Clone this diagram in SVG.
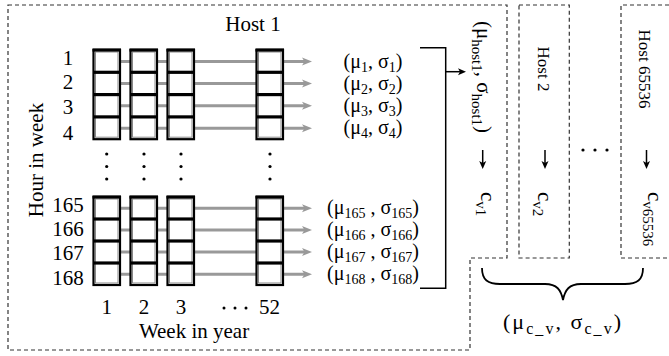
<svg xmlns="http://www.w3.org/2000/svg" width="669" height="356" viewBox="0 0 669 356" font-family="'Liberation Serif', 'DejaVu Serif', serif">
<style>
text{font-family:"Liberation Serif","DejaVu Serif",serif;fill:#000}
.t{font-size:21px}
.m{font-size:20px}
.r{font-size:17px}
.dash{fill:none;stroke:#333;stroke-width:1.2;stroke-dasharray:4 3}
.col{fill:#fff;stroke:#000;stroke-width:2.2}
.inner{fill:none;stroke:#888;stroke-width:1}
.div{stroke:#000;stroke-width:3.2}
.ga{stroke:#999;stroke-width:3;fill:none}
.bk{stroke:#000;stroke-width:1.5;fill:none}
</style>
<defs>
<marker id="gah" markerUnits="userSpaceOnUse" markerWidth="12" markerHeight="10" refX="4" refY="5" orient="auto"><path d="M0,1 L10,5 L0,9 L2.5,5 Z" fill="#999"/></marker>
<marker id="bah" markerUnits="userSpaceOnUse" markerWidth="10" markerHeight="8" refX="3" refY="4" orient="auto"><path d="M0,0.5 L8,4 L0,7.5 L2,4 Z" fill="#000"/></marker>
<g id="colU"><rect class="col" x="0" y="0" width="26.5" height="89.2"/><rect class="inner" x="2" y="2" width="22.5" height="85.2"/><line class="div" x1="-1" y1="0" x2="27.5" y2="0"/><line class="div" x1="0" y1="22.3" x2="26.5" y2="22.3"/><line class="div" x1="0" y1="44.6" x2="26.5" y2="44.6"/><line class="div" x1="0" y1="66.9" x2="26.5" y2="66.9"/></g>
<g id="colL"><rect class="col" x="0" y="0" width="26.5" height="88"/><rect class="inner" x="2" y="2" width="22.5" height="84"/><line class="div" x1="-1" y1="0" x2="27.5" y2="0"/><line class="div" x1="0" y1="22" x2="26.5" y2="22"/><line class="div" x1="0" y1="44" x2="26.5" y2="44"/><line class="div" x1="0" y1="66" x2="26.5" y2="66"/></g>
</defs>
<rect width="669" height="356" fill="#fff"/>

<g id="connectors">
<line class="ga" x1="100" y1="61.5" x2="306" y2="61.5" marker-end="url(#gah)"/>
<line class="ga" x1="100" y1="83.5" x2="306" y2="83.5" marker-end="url(#gah)"/>
<line class="ga" x1="100" y1="105.8" x2="306" y2="105.8" marker-end="url(#gah)"/>
<line class="ga" x1="100" y1="128.2" x2="306" y2="128.2" marker-end="url(#gah)"/>
<line class="ga" x1="100" y1="208.3" x2="306" y2="208.3" marker-end="url(#gah)"/>
<line class="ga" x1="100" y1="230" x2="306" y2="230" marker-end="url(#gah)"/>
<line class="ga" x1="100" y1="252" x2="306" y2="252" marker-end="url(#gah)"/>
<line class="ga" x1="100" y1="274.3" x2="306" y2="274.3" marker-end="url(#gah)"/>
<path class="bk" d="M420,47.7 H445.7 V288.3 H420"/>
<line class="bk" x1="445.7" y1="71.7" x2="461" y2="71.7" marker-end="url(#bah)"/>
<line class="bk" x1="482.7" y1="150" x2="482.7" y2="164" marker-end="url(#bah)"/>
<line class="bk" x1="545" y1="150" x2="545" y2="164" marker-end="url(#bah)"/>
<line class="bk" x1="646.5" y1="150" x2="646.5" y2="164" marker-end="url(#bah)"/>
</g>

<g id="host1">
<path class="dash" d="M8,5 H507 V258 H470 V350 H8 Z"/>
<text class="t" x="253" y="31" text-anchor="middle">Host 1</text>
<text class="t" transform="translate(43,160) rotate(-90)" text-anchor="middle">Hour in week</text>
<g id="matrix">
<use href="#colU" x="93.5" y="50"/>
<use href="#colU" x="130.5" y="50"/>
<use href="#colU" x="167.5" y="50"/>
<use href="#colU" x="256.5" y="50"/>
<use href="#colL" x="93.5" y="197"/>
<use href="#colL" x="130.5" y="197"/>
<use href="#colL" x="167.5" y="197"/>
<use href="#colL" x="256.5" y="197"/>
</g>
<g id="vdots" fill="#000">
<circle cx="106.7" cy="154" r="1.6"/><circle cx="106.7" cy="166.5" r="1.6"/><circle cx="106.7" cy="179" r="1.6"/>
<circle cx="144" cy="154" r="1.6"/><circle cx="144" cy="166.5" r="1.6"/><circle cx="144" cy="179" r="1.6"/>
<circle cx="181" cy="154" r="1.6"/><circle cx="181" cy="166.5" r="1.6"/><circle cx="181" cy="179" r="1.6"/>
<circle cx="270" cy="154" r="1.6"/><circle cx="270" cy="166.5" r="1.6"/><circle cx="270" cy="179" r="1.6"/>
<circle cx="224" cy="308" r="1.5"/><circle cx="235" cy="308" r="1.5"/><circle cx="246" cy="308" r="1.5"/>
</g>
<g id="rowlabels">
<text class="t" x="68" y="64.5" text-anchor="middle">1</text>
<text class="t" x="68" y="89" text-anchor="middle">2</text>
<text class="t" x="68" y="114" text-anchor="middle">3</text>
<text class="t" x="68" y="139.5" text-anchor="middle">4</text>
<text class="t" x="68" y="211.5" text-anchor="middle">165</text>
<text class="t" x="68" y="235.5" text-anchor="middle">166</text>
<text class="t" x="68" y="260" text-anchor="middle">167</text>
<text class="t" x="68" y="284.5" text-anchor="middle">168</text>
</g>
<g id="collabels">
<text class="t" x="106.7" y="313.5" text-anchor="middle">1</text>
<text class="t" x="144" y="313.5" text-anchor="middle">2</text>
<text class="t" x="181" y="313.5" text-anchor="middle">3</text>
<text class="t" x="269.5" y="313.5" text-anchor="middle">52</text>
<text class="t" x="194" y="337.5" text-anchor="middle">Week in year</text>
</g>
<g id="stats">
<text class="m" x="373" y="67.5" text-anchor="middle">(μ<tspan font-size="14" dy="4">1</tspan><tspan dy="-4">, σ</tspan><tspan font-size="14" dy="4">1</tspan><tspan dy="-4">)</tspan></text>
<text class="m" x="373" y="89.5" text-anchor="middle">(μ<tspan font-size="14" dy="4">2</tspan><tspan dy="-4">, σ</tspan><tspan font-size="14" dy="4">2</tspan><tspan dy="-4">)</tspan></text>
<text class="m" x="373" y="112" text-anchor="middle">(μ<tspan font-size="14" dy="4">3</tspan><tspan dy="-4">, σ</tspan><tspan font-size="14" dy="4">3</tspan><tspan dy="-4">)</tspan></text>
<text class="m" x="373" y="134" text-anchor="middle">(μ<tspan font-size="14" dy="4">4</tspan><tspan dy="-4">, σ</tspan><tspan font-size="14" dy="4">4</tspan><tspan dy="-4">)</tspan></text>
<text class="m" x="373" y="214" text-anchor="middle">(μ<tspan font-size="14" dy="4">165</tspan><tspan dy="-4"> , σ</tspan><tspan font-size="14" dy="4">165</tspan><tspan dy="-4">)</tspan></text>
<text class="m" x="373" y="236" text-anchor="middle">(μ<tspan font-size="14" dy="4">166</tspan><tspan dy="-4"> , σ</tspan><tspan font-size="14" dy="4">166</tspan><tspan dy="-4">)</tspan></text>
<text class="m" x="373" y="258" text-anchor="middle">(μ<tspan font-size="14" dy="4">167</tspan><tspan dy="-4"> , σ</tspan><tspan font-size="14" dy="4">167</tspan><tspan dy="-4">)</tspan></text>
<text class="m" x="373" y="280" text-anchor="middle">(μ<tspan font-size="14" dy="4">168</tspan><tspan dy="-4"> , σ</tspan><tspan font-size="14" dy="4">168</tspan><tspan dy="-4">)</tspan></text>
</g>
<text class="t" transform="translate(477,77) rotate(90)" text-anchor="middle">(μ<tspan font-size="15" dy="5">host1</tspan><tspan dy="-5">, σ</tspan><tspan font-size="15" dy="5">host1</tspan><tspan dy="-5">)</tspan></text>
<text class="t" transform="translate(481,192) rotate(90)">c<tspan font-size="15" dy="5">v1</tspan></text>
</g>

<g id="host2">
<rect class="dash" x="519" y="5" width="50.3" height="253"/>
<text class="r" transform="translate(538,69) rotate(90)" text-anchor="middle">Host 2</text>
<text class="t" transform="translate(537.5,192) rotate(90)">c<tspan font-size="15" dy="5">v2</tspan></text>
</g>

<g id="hostdots" fill="#000">
<circle cx="583" cy="150" r="1.6"/><circle cx="595" cy="150" r="1.6"/><circle cx="607" cy="150" r="1.6"/>
</g>

<g id="host65536">
<path class="dash" d="M669,5 H621 V258 H669"/>
<text class="r" transform="translate(638.5,69) rotate(90)" text-anchor="middle">Host 65536</text>
<text class="t" transform="translate(648,192) rotate(90)">c<tspan font-size="15" dy="5">v65536</tspan></text>
</g>

<g id="aggregate">
<path d="M482,268 C482,280 488,284 500,284 L545,284 C557,284 561,290 563,300 C565,290 569,284 581,284 L625,284 C637,284 643,280 643,268" fill="none" stroke="#000" stroke-width="1.8"/>
<text x="562" y="329" font-size="22" text-anchor="middle" textLength="118" lengthAdjust="spacing">(μ<tspan font-size="16" dy="5">c_v</tspan><tspan dy="-5">, σ</tspan><tspan font-size="16" dy="5">c_v</tspan><tspan dy="-5">)</tspan></text>
</g>
</svg>
